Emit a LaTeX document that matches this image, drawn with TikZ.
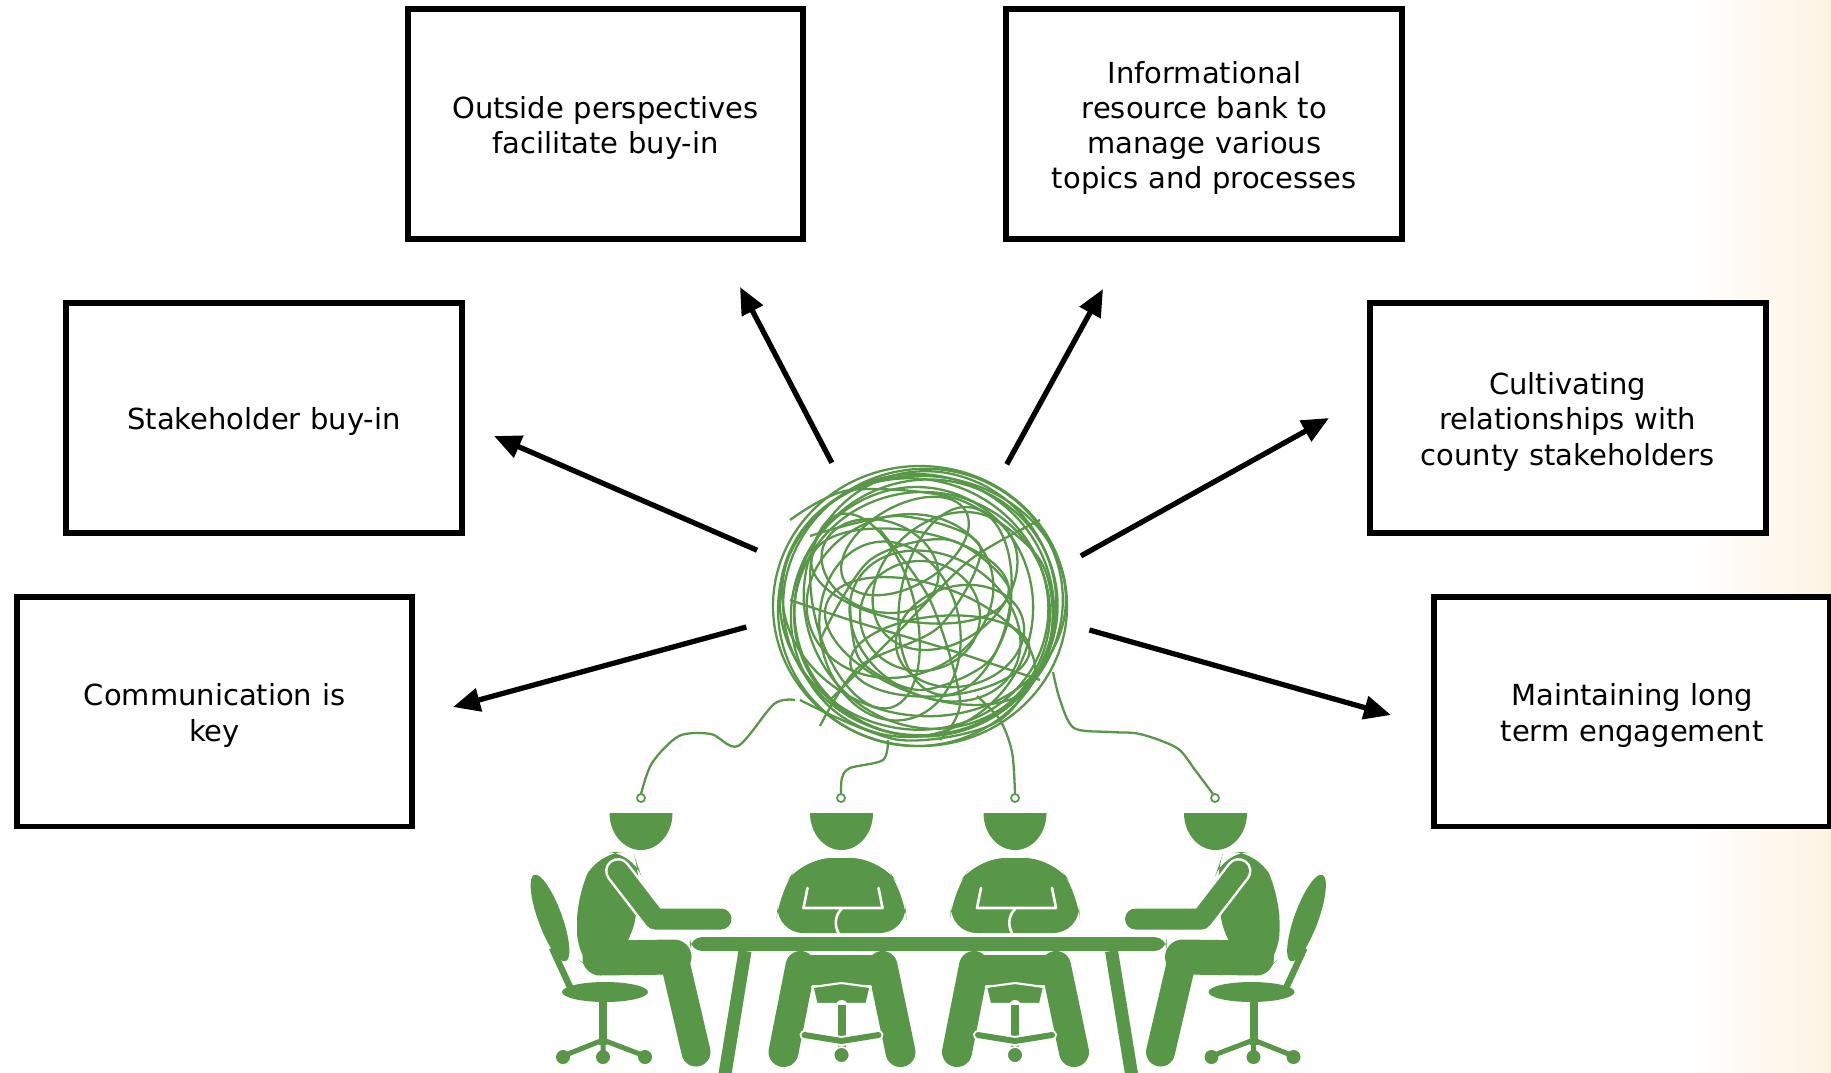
\documentclass[tikz,border=0pt]{standalone}
\usepackage{fontspec}
\setmainfont{DejaVu Sans}
\usetikzlibrary{arrows.meta, positioning}
\definecolor{leaf}{RGB}{88,150,72}
\definecolor{cream}{RGB}{253,243,225}

\begin{document}
\begin{tikzpicture}[x=0.02cm, y=-0.02cm,
        box/.style={draw, line width=3.4pt, fill=white, minimum width=7.92cm, minimum height=4.6cm,
            align=center, text width=7.4cm, inner sep=0pt, font=\fontsize{16.5}{20}\selectfont,
            execute at begin node={\rule{0pt}{17pt}}},
        arr/.style={-{Triangle[length=0.54cm, width=0.46cm]}, line width=3pt},
        wire/.style={leaf, line width=1.3pt},
        limb/.style={leaf, line cap=round, line join=round},
        rim/.style={white, line cap=round, line join=round}]
    \useasboundingbox (0,0) rectangle (1831,1072);
    \shade[left color=white, right color=cream] (1690,0) rectangle (1831,1072);

    \node (outside) [box] at (605.5,124) {Outside perspectives\\facilitate buy-in};
    \node (info) [box, right=3.94cm of outside] {Informational\\resource bank to\\manage various\\topics and processes};
    \node (stake) [box] at (264,418) {Stakeholder buy-in};
    \node (cult) [box, right=18.04cm of stake] {Cultivating\\relationships with\\county stakeholders};
    \node (comm) [box] at (214.5,711.5) {Communication is\\key};
    \node (maint) [box, right=20.32cm of comm] {Maintaining long\\term engagement};

    \node (hub) [circle, minimum size=6.88cm, inner sep=0pt] at (918,612) {};
    \coordinate (tipOut) at (740,287);
    \coordinate (tipInfo) at (1103,289);
    \coordinate (tipStake) at (494,436);
    \coordinate (tipCult) at (1329,418);
    \coordinate (tipComm) at (453,707);
    \coordinate (tipMaint) at (1391,715);

    \path[arr]
        (hub.120) edge (tipOut)
        (hub.59) edge (tipInfo)
        (hub.159) edge (tipStake)
        (hub.19) edge (tipCult)
        (hub.185) edge (tipComm)
        (hub.-6) edge (tipMaint);

    % tangle
    \begin{scope}[shift={(920,606)}]
        \foreach \dx/\dy/\rx/\ry/\r in {0/0/147/140/0, 3/-4/140/133/10, -4/4/138/136/-8, 6/2/132/128/20,
                -6/-2/135/125/-15, 2/8/128/122/5, 10/-6/125/130/30, -8/6/120/126/-25, 4/-10/142/120/-5,
                -20/-10/95/80/20, 15/20/90/70/-30, -30/25/70/90/10, 25/-25/80/60/40, 0/10/60/55/0,
                -40/-40/60/45/-20, 40/30/65/50/15, -10/-30/100/45/-10, 20/50/90/40/5, -15/-60/70/40/30,
                35/-5/55/95/-10, -55/5/50/100/15, 10/35/110/55/-20}
            \draw[wire] (\dx,\dy) ellipse [x radius=\rx, y radius=\ry, rotate=\r];
        \draw[wire] plot[smooth] coordinates {(-130,-86) (-70,-116) (40,-106) (120,-46) (130,34) (80,114) (-20,134) (-120,94)};
        \draw[wire] plot[smooth] coordinates {(-100,34) (-50,-46) (30,-66) (90,-16) (70,54) (0,84) (-60,54) (-70,-6)};
        \draw[wire] plot[smooth] coordinates {(-40,-76) (10,-6) (40,94) (20,134)};
        \draw[wire] plot[smooth] coordinates {(-130,-6) (-70,14) (30,44) (120,74)};
        \draw[wire] plot[smooth] coordinates {(-90,94) (-20,24) (50,-46) (120,-86)};
        \draw[wire] plot[smooth] coordinates {(-110,-70) (-20,-90) (60,-60) (20,20) (-60,60) (-100,120)};
    \end{scope}

    % strings
    \draw[wire] plot[smooth] coordinates {(795,700) (774,704) (738,746) (711,734) (679,736) (652,763) (641,794)};
    \draw[wire] plot[smooth] coordinates {(888,740) (883,760) (850,768) (842,778) (841,794)};
    \draw[wire] plot[smooth] coordinates {(977,696) (1000,720) (1012,752) (1015,794)};
    \draw[wire] plot[smooth] coordinates {(1053,672) (1060,700) (1074,728) (1110,732) (1140,734) (1177,748) (1195,770) (1213,794)};
    \foreach \hx in {641,841,1015,1215}
        \draw[wire, line width=1pt] (\hx,798) circle [radius=4];

    % table
    \fill[leaf, rounded corners=7] (690,937) rectangle (1166.5,951);
    \draw[leaf, line width=0.26cm] (745,951) -- (724,1080);
    \draw[leaf, line width=0.26cm] (1111.5,951) -- (1132.5,1080);

    % side people
    \foreach \s/\m in {1/0, -1/1856.5} {
        \begin{scope}[shift={(\m,0)}, xscale=\s]
            \fill[leaf] (609.5,813) -- (672.5,813) arc[start angle=0, end angle=180, x radius=31.5, y radius=37] -- cycle;
            \fill[leaf, rounded corners=15] (598,852) -- (633,852) -- (642,878) -- (631,945) -- (598,977) -- (577,958) -- (577,895) -- cycle;
            \draw[limb, line width=0.7cm] (600,958) -- (674,957);
            \draw[limb, line width=0.58cm] (675,962) -- (696,1052);
            \draw[rim, line width=0.52cm] (618,871) -- (655,919) -- (721,919);
            \draw[limb, line width=0.42cm] (618,871) -- (655,919) -- (721,919);
            \fill[leaf] (550,918) ellipse [x radius=12, y radius=46, rotate=20];
            \draw[leaf, line width=0.13cm] (552,948) -- (570,987);
            \fill[leaf] (605,992) ellipse [x radius=43, y radius=10];
            \draw[leaf, line width=0.16cm] (603,995) -- (603,1045);
            \draw[leaf, line width=0.1cm] (563,1056) -- (603,1040) -- (645,1056) (603,1040) -- (603,1057);
            \foreach \w in {563,603,645}
                \fill[leaf] (\w,1057) circle [radius=7];
        \end{scope}
    }

    % front people
    \foreach \hx in {841.5,1015} {
        \fill[leaf] ({\hx-31.5},813) -- ({\hx+31.5},813) arc[start angle=0, end angle=180, x radius=31.5, y radius=37] -- cycle;
        \fill[leaf, rounded corners=16] ({\hx-66},933) -- ({\hx-63},893) -- ({\hx-38},858) -- ({\hx+38},858) -- ({\hx+63},893) -- ({\hx+66},933) -- cycle;
        \draw[rim, line width=1.5pt] ({\hx-34},888) -- ({\hx-38},908) -- ({\hx+41},908) -- ({\hx+37},888);
        \draw[rim, line width=1.5pt] ({\hx},909) .. controls ({\hx-7},916) and ({\hx-7},926) .. ({\hx-3},933);
        \fill[leaf, rounded corners=8] ({\hx-55},985) -- ({\hx-55},955) -- ({\hx+55},955) -- ({\hx+55},985) -- cycle;
        \draw[limb, line width=0.6cm] ({\hx-41},966) -- ({\hx-58},1052);
        \draw[limb, line width=0.6cm] ({\hx+41},966) -- ({\hx+59},1052);
        \filldraw[fill=leaf, draw=white, line width=1.2pt] ({\hx-29},987) -- ({\hx},983) -- ({\hx+29},987) -- ({\hx+25},1004) -- ({\hx-25},1004) -- cycle;
        \draw[rim, line width=0.24cm] ({\hx},1006) -- ({\hx},1050);
        \draw[leaf, line width=0.16cm] ({\hx},1005) -- ({\hx},1050);
        \draw[rim, line width=0.2cm] ({\hx-37},1035) -- ({\hx},1041) -- ({\hx+37},1035);
        \draw[limb, line width=0.12cm] ({\hx-37},1035) -- ({\hx},1041) -- ({\hx+37},1035);
        \filldraw[fill=leaf, draw=white, line width=1pt] ({\hx},1055) circle [radius=8];
    }
\end{tikzpicture}
\end{document}
